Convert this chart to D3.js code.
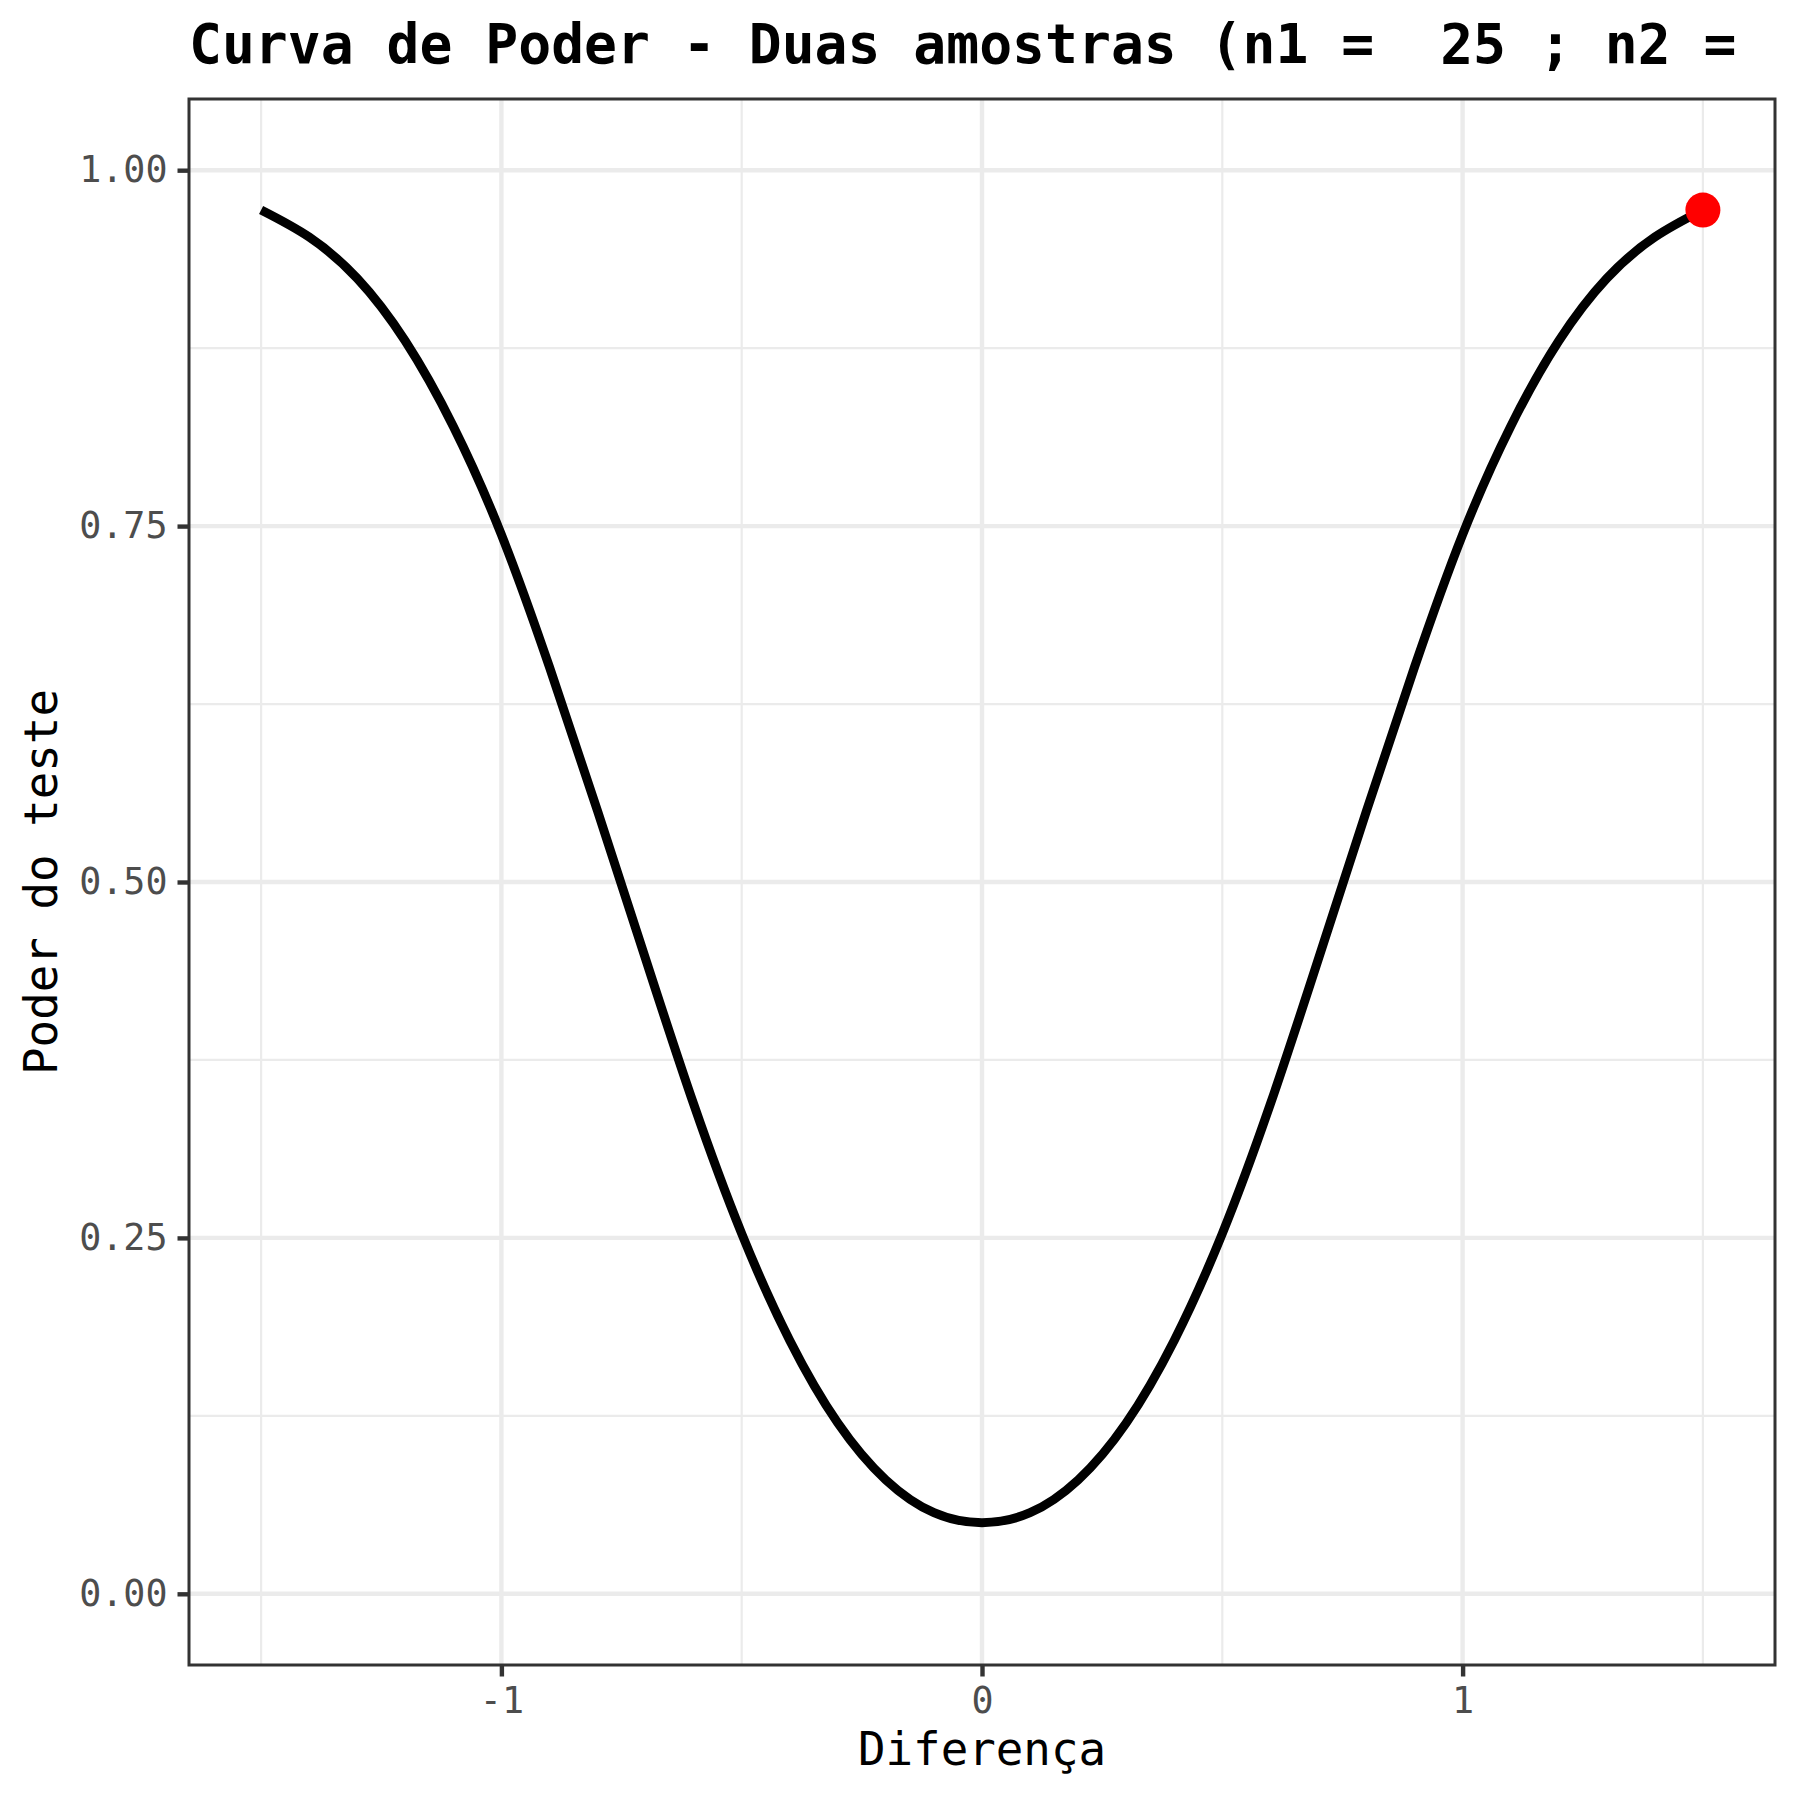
<!DOCTYPE html>
<html>
<head>
<meta charset="utf-8">
<script src="https://cdn.jsdelivr.net/npm/d3@7"></script>
<style>
  html, body { margin: 0; padding: 0; background: #fff; }
  #chartContainer { width: 1800px; height: 1800px; }
</style>
</head>
<body>
<div id="chartContainer"></div>
<script>
// power curve values
const diferenca = [-1.5, -1.4, -1.3, -1.2, -1.1, -1.0, -0.9, -0.8, -0.7, -0.6, -0.5, -0.4, -0.3, -0.2, -0.1,
    0.0, 0.1, 0.2, 0.3, 0.4, 0.5, 0.6, 0.7, 0.8, 0.9, 1.0, 1.1, 1.2, 1.3, 1.4, 1.5];
const poder = [0.972, 0.953, 0.924, 0.880, 0.820, 0.744, 0.651, 0.550, 0.446, 0.344, 0.253, 0.178, 0.120, 0.080, 0.057,
    0.050, 0.057, 0.080, 0.120, 0.178, 0.253, 0.344, 0.446, 0.550, 0.651, 0.744, 0.820, 0.880, 0.924, 0.953, 0.972];

// highlighted point
const pontoX = [1.5];
const pontoY = [0.972];

const xTicks = [-1, 0, 1];
const xMinor = [-1.5, -0.5, 0.5, 1.5];
const yTicks = [0, 0.25, 0.5, 0.75, 1];
const yMinor = [0.125, 0.375, 0.625, 0.875];

const titulo = "Curva de Poder - Duas amostras (n1 =  25 ; n2 =";
const xTitulo = "Diferença";
const yTitulo = "Poder do teste";

function createChart() {
    const FONT = "'DejaVu Sans Mono', 'Liberation Mono', monospace";
    const GRID = "#EBEBEB";
    const BORDER = "#333333";
    const TICK_TEXT = "#4D4D4D";

    const width = 1800, height = 1800;
    const panel = { left: 189, right: 1775, top: 99, bottom: 1665 };

    const container = d3.select("#chartContainer");
    container.selectAll("*").remove();

    const svg = container.append("svg")
        .attr("width", width)
        .attr("height", height)
        .style("background-color", "#fff");

    const x = d3.scaleLinear().domain([-1.65, 1.65]).range([panel.left, panel.right]);
    const y = d3.scaleLinear().domain([-0.05, 1.05]).range([panel.bottom, panel.top]);

    // minor grid
    const grid = svg.append("g");
    grid.selectAll("line.vminor").data(xMinor).enter().append("line")
        .attr("x1", d => x(d)).attr("x2", d => x(d))
        .attr("y1", panel.top).attr("y2", panel.bottom)
        .attr("stroke", GRID).attr("stroke-width", 2.2);
    grid.selectAll("line.hminor").data(yMinor).enter().append("line")
        .attr("x1", panel.left).attr("x2", panel.right)
        .attr("y1", d => y(d)).attr("y2", d => y(d))
        .attr("stroke", GRID).attr("stroke-width", 2.2);

    // major grid
    grid.selectAll("line.vmajor").data(xTicks).enter().append("line")
        .attr("x1", d => x(d)).attr("x2", d => x(d))
        .attr("y1", panel.top).attr("y2", panel.bottom)
        .attr("stroke", GRID).attr("stroke-width", 4.4);
    grid.selectAll("line.hmajor").data(yTicks).enter().append("line")
        .attr("x1", panel.left).attr("x2", panel.right)
        .attr("y1", d => y(d)).attr("y2", d => y(d))
        .attr("stroke", GRID).attr("stroke-width", 4.4);

    // curve
    const data = diferenca.map((d, i) => ({ x: d, y: poder[i] }));
    const line = d3.line()
        .x(d => x(d.x))
        .y(d => y(d.y))
        .curve(d3.curveNatural);
    svg.append("path")
        .datum(data)
        .attr("d", line)
        .attr("fill", "none")
        .attr("stroke", "#000")
        .attr("stroke-width", 9)
        .attr("stroke-linecap", "butt")
        .attr("stroke-linejoin", "round");

    // red point
    svg.selectAll("circle.ponto")
        .data(pontoX.map((d, i) => ({ x: d, y: pontoY[i] })))
        .enter().append("circle")
        .attr("cx", d => x(d.x))
        .attr("cy", d => y(d.y))
        .attr("r", 17.5)
        .attr("fill", "#FF0000");

    // panel border
    svg.append("rect")
        .attr("x", panel.left).attr("y", panel.top)
        .attr("width", panel.right - panel.left)
        .attr("height", panel.bottom - panel.top)
        .attr("fill", "none")
        .attr("stroke", BORDER)
        .attr("stroke-width", 3);

    // axes
    const xAxis = svg.append("g")
        .attr("transform", `translate(0,${panel.bottom})`)
        .call(d3.axisBottom(x).tickValues(xTicks).tickSize(11.5).tickPadding(10).tickFormat(d => String(d)));
    const yAxis = svg.append("g")
        .attr("transform", `translate(${panel.left},0)`)
        .call(d3.axisLeft(y).tickValues(yTicks).tickSize(11.5).tickPadding(10).tickFormat(d3.format(".2f")));

    [xAxis, yAxis].forEach(ax => {
        ax.select(".domain").remove();
        ax.selectAll(".tick line").attr("stroke", BORDER).attr("stroke-width", 4.4);
        ax.selectAll(".tick text")
            .attr("fill", TICK_TEXT)
            .style("font-family", FONT)
            .style("font-size", "36.7px");
    });
    xAxis.selectAll(".tick text").attr("dy", "0.71em");

    // titles
    svg.append("text")
        .attr("x", panel.left)
        .attr("y", 63)
        .attr("xml:space", "preserve")
        .style("white-space", "pre")
        .style("font-family", FONT)
        .style("font-weight", "bold")
        .style("font-size", "54.7px")
        .attr("fill", "#000")
        .text(titulo);

    svg.append("text")
        .attr("x", (panel.left + panel.right) / 2)
        .attr("y", 1765)
        .attr("text-anchor", "middle")
        .style("font-family", FONT)
        .style("font-size", "45.8px")
        .attr("fill", "#000")
        .text(xTitulo);

    svg.append("text")
        .attr("transform", `translate(57,${(panel.top + panel.bottom) / 2}) rotate(-90)`)
        .attr("text-anchor", "middle")
        .style("font-family", FONT)
        .style("font-size", "45.8px")
        .attr("fill", "#000")
        .text(yTitulo);
}

createChart();
</script>
</body>
</html>
